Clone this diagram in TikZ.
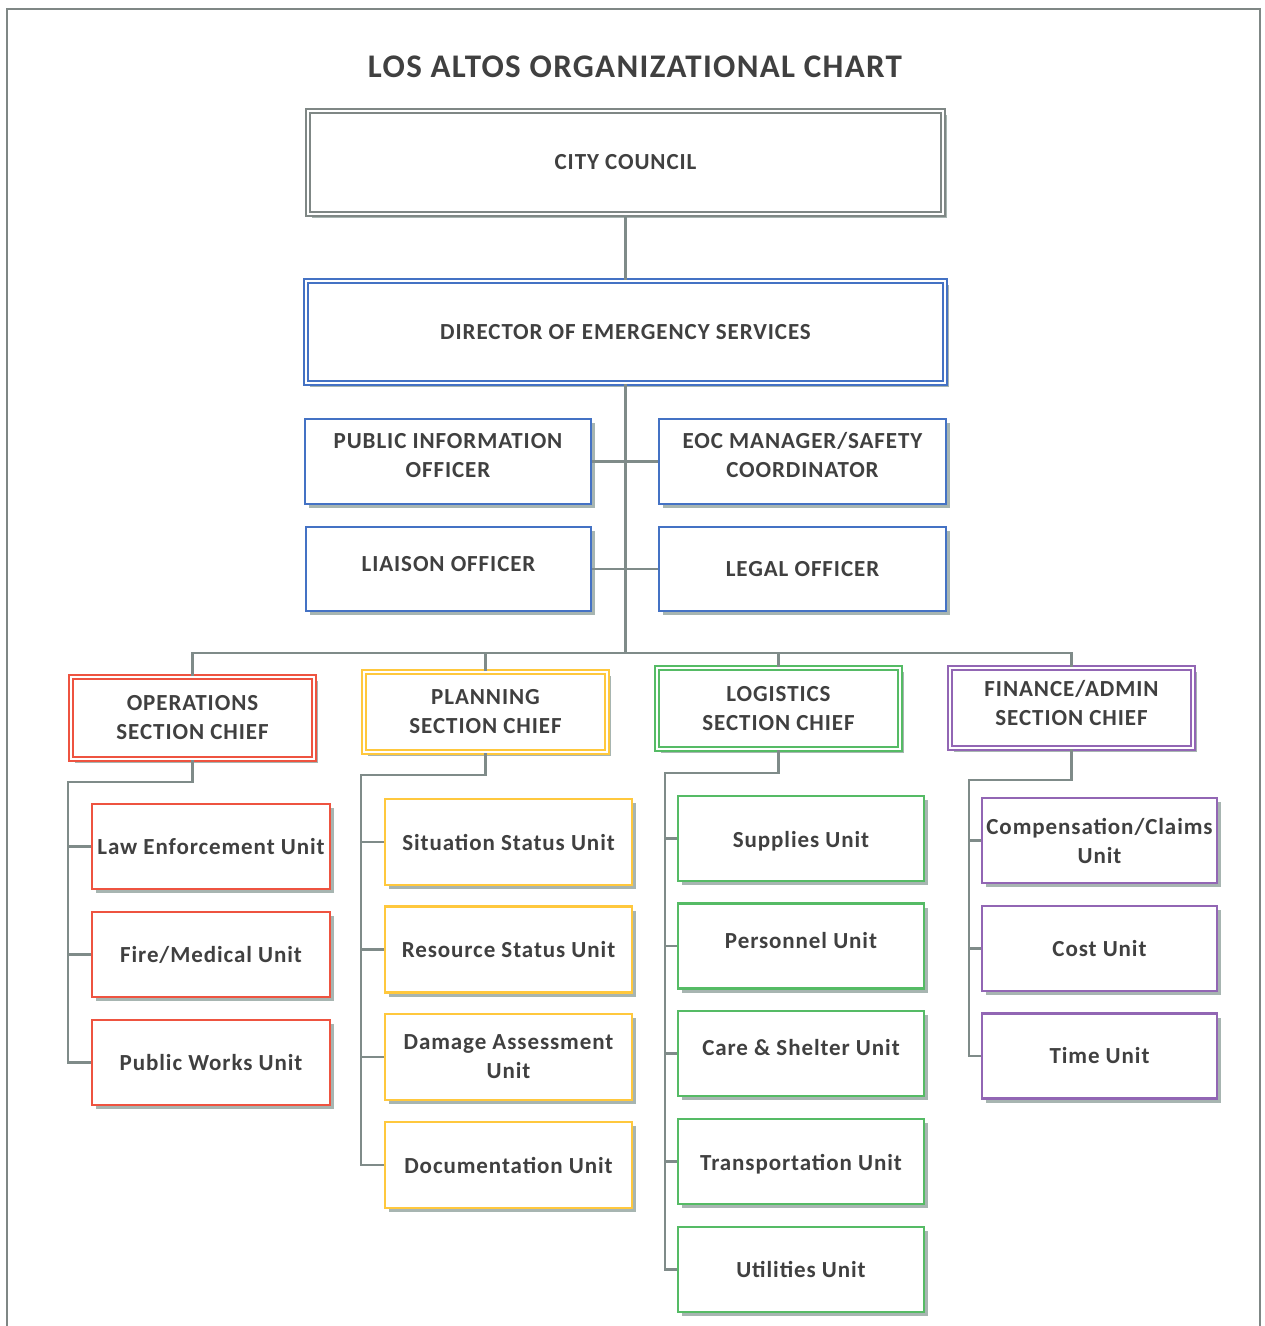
\documentclass[tikz,border=0pt]{standalone}
\usepackage{fontspec}
\setmainfont{Carlito}[LetterSpace=4]
\usetikzlibrary{shadows}
\definecolor{txt}{HTML}{404040}
\definecolor{conn}{HTML}{7F8B89}
\definecolor{shad}{HTML}{A7B5B1}
\definecolor{cgray}{HTML}{7F8785}
\definecolor{cblue}{HTML}{4472C4}
\definecolor{cred}{HTML}{EE5340}
\definecolor{cyel}{HTML}{FFC83D}
\definecolor{cgreen}{HTML}{55BB65}
\definecolor{cpurp}{HTML}{9266B4}
\newcommand{\rsh}[2]{\raisebox{#1}[\height][\depth]{\begin{tabular}{@{}c@{}}#2\end{tabular}}}
\tikzset{
  box/.style={draw, line width=2.4pt, fill=white, inner sep=1pt, align=center,
    font=\fontsize{23}{29}\selectfont\bfseries, text=txt,
    drop shadow={shadow xshift=4pt, shadow yshift=-4pt, fill=shad, opacity=1}},
  dbox/.style={box, line width=2pt, double=white, double distance=2pt},
  conline/.style={draw=conn, line width=2.2pt},
}
\begin{document}
\begin{tikzpicture}[x=1pt,y=-1pt]
\useasboundingbox (0,0) rectangle (1265,1326);
\draw[draw=cgray, line width=2.2pt] (7,1326) -- (7,9) -- (1260,9) -- (1260,1326);
\node[font=\fontsize{33}{38}\selectfont\bfseries, text=txt] (title) at (635,67) {LOS ALTOS ORGANIZATIONAL CHART};
% top
\node[dbox, draw=cgray, minimum width=635, minimum height=103] (cc) at (625.5,162.5) {CITY COUNCIL};
\node[dbox, draw=cblue, minimum width=639, minimum height=102] (dir) at (625.5,332) {DIRECTOR OF EMERGENCY SERVICES};
\node[box, draw=cblue, minimum width=286, minimum height=85] (pio) at (448,461.5) {\rsh{4pt}{PUBLIC INFORMATION\\OFFICER}};
\node[box, draw=cblue, minimum width=287, minimum height=85] (eoc) at (802.5,461.5) {\rsh{4pt}{EOC MANAGER/SAFETY\\COORDINATOR}};
\node[box, draw=cblue, minimum width=285, minimum height=84] (lia) at (448.5,569) {\rsh{3pt}{LIAISON OFFICER}};
\node[box, draw=cblue, minimum width=287, minimum height=84] (leg) at (802.5,569) {LEGAL OFFICER};
% sections
\node[dbox, draw=cred, minimum width=243, minimum height=82] (ops) at (192.5,718) {OPERATIONS\\SECTION CHIEF};
\node[dbox, draw=cyel, minimum width=243, minimum height=80] (pln) at (485.5,712) {PLANNING\\SECTION CHIEF};
\node[dbox, draw=cgreen, minimum width=243, minimum height=81] (log) at (778.5,708.5) {LOGISTICS\\SECTION CHIEF};
\node[dbox, draw=cpurp, minimum width=243, minimum height=80] (fin) at (1071.5,708) {\rsh{3pt}{FINANCE/ADMIN\\SECTION CHIEF}};
% ops units
\tikzset{ou/.style={box, draw=cred, minimum width=238, minimum height=85}}
\node[ou] (law) at (211,846.5) {Law Enforcement Unit};
\node[ou] (fire) at (211,954.5) {Fire/Medical Unit};
\node[ou] (pw) at (211,1062.5) {Public Works Unit};
% planning units
\tikzset{pu/.style={box, draw=cyel, minimum width=247, minimum height=86}}
\node[pu] (sit) at (508.5,842) {Situation Status Unit};
\node[pu] (res) at (508.5,949.5) {Resource Status Unit};
\node[pu] (dam) at (508.5,1057) {Damage Assessment\\Unit};
\node[pu] (doc) at (508.5,1165) {Documentation Unit};
% logistics units
\tikzset{lu/.style={box, draw=cgreen, minimum width=246, minimum height=85}}
\node[lu] (sup) at (801,838.5) {\rsh{-3pt}{Supplies Unit}};
\node[lu] (per) at (801,946) {\rsh{3pt}{Personnel Unit}};
\node[lu] (care) at (801,1053.5) {\rsh{3.5pt}{Care \& Shelter Unit}};
\node[lu] (tra) at (801,1161.5) {\rsh{-3pt}{Transportation Unit}};
\node[lu] (uti) at (801,1269.5) {Utilities Unit};
% finance units
\tikzset{fu/.style={box, draw=cpurp, minimum width=235, minimum height=85}}
\node[fu] (comp) at (1099.5,840.5) {Compensation/Claims\\Unit};
\node[fu] (cost) at (1099.5,948.5) {Cost Unit};
\node[fu] (time) at (1099.5,1056) {Time Unit};
% coordinates
\coordinate (hub) at (625.5,653);
\coordinate (opsT) at (68,782);
\coordinate (plnT) at (361,775);
\coordinate (logT) at (665,773);
\coordinate (finT) at (969,780);
% connectors
\begin{scope}[conline]
\draw (cc.south) -- (dir.north);
\draw (dir.south) -- (hub);
\draw (pio.east) -- (eoc.west);
\draw (lia.east) -- (leg.west);
\draw (ops.north) |- (hub) -| (fin.north);
\draw (pln.north) -- (pln.north |- hub);
\draw (log.north) -- (log.north |- hub);
\draw (ops.south) |- (opsT) |- (pw.west);
\draw (law.west -| opsT) -- (law.west);
\draw (fire.west -| opsT) -- (fire.west);
\draw (pln.south) |- (plnT) |- (doc.west);
\draw (sit.west -| plnT) -- (sit.west);
\draw (res.west -| plnT) -- (res.west);
\draw (dam.west -| plnT) -- (dam.west);
\draw (log.south) |- (logT) |- (uti.west);
\draw (sup.west -| logT) -- (sup.west);
\draw (per.west -| logT) -- (per.west);
\draw (care.west -| logT) -- (care.west);
\draw (tra.west -| logT) -- (tra.west);
\draw (fin.south) |- (finT) |- (time.west);
\draw (comp.west -| finT) -- (comp.west);
\draw (cost.west -| finT) -- (cost.west);
\end{scope}
\end{tikzpicture}
\end{document}
